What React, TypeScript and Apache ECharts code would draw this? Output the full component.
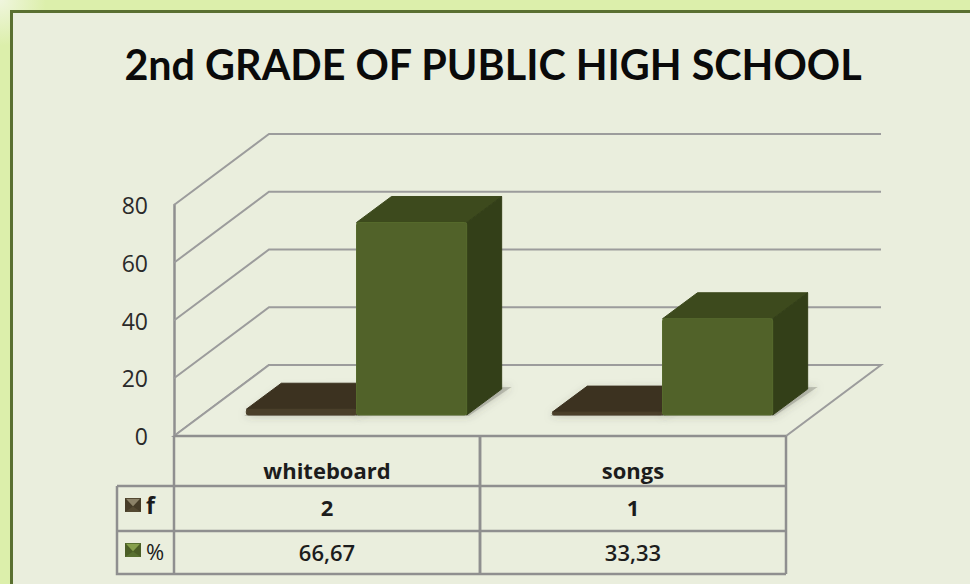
import React, { useEffect, useRef } from "react";
import * as echarts from "echarts";

const chartTitle = "2nd GRADE OF PUBLIC HIGH SCHOOL";
const categories = ["whiteboard", "songs"];
const frequency = [2, 1];
const percent = [66.67, 33.33];
const percentLabels = ["66,67", "33,33"];
const valueTicks = [0, 20, 40, 60, 80];

const TITLE_FONT = "Lato";
const FONT = "Open Sans";
const INK = "#1c1c1c";
const RULE = "#8f8f8f";

// Oblique projection used for the walls and the boxes.
const WALL_DX = 95;
const WALL_DY = 71;
const BOX_DX = 35;
const BOX_DY = 26;
const SHIFT_DX = 29.5;
const SHIFT_DY = 21;
const BAR_RATIO = 0.36;

const line = (x1: number, y1: number, x2: number, y2: number, width = 2.5) => ({
  type: "line",
  shape: { x1, y1, x2, y2 },
  style: { stroke: RULE, lineWidth: width },
});

function wallRenderer(params: any, api: any) {
  const y = api.coord([0, api.value(1)])[1];
  const { x, width } = params.coordSys;
  const children: any[] = [
    {
      type: "polyline",
      shape: {
        points: [
          [x, y],
          [x + WALL_DX, y - WALL_DY],
          [x + width + WALL_DX, y - WALL_DY],
        ],
      },
      style: { stroke: "#9c9c9c", lineWidth: 2, fill: "none" },
    },
  ];
  if (api.value(1) === 0) {
    children.push({
      type: "polygon",
      shape: {
        points: [
          [x, y],
          [x + WALL_DX, y - WALL_DY],
          [x + width + WALL_DX, y - WALL_DY],
          [x + width, y],
        ],
      },
      style: { fill: "#ebefdf", stroke: "#9c9c9c", lineWidth: 2 },
    });
  }
  return { type: "group", children };
}

function boxRenderer(side: "left" | "right", colors: { front: string; top: string; side: string; edge: string }) {
  return (_params: any, api: any) => {
    const idx = api.value(0);
    const top = api.coord([idx, api.value(1)]);
    const base = api.coord([idx, 0]);
    const w = api.size([1, 0])[0] * BAR_RATIO;
    const x0 = top[0] + SHIFT_DX - (side === "left" ? w : 0);
    const x1 = x0 + w;
    const yb = base[1] - SHIFT_DY;
    const yt = top[1] - SHIFT_DY;
    return {
      type: "group",
      children: [
        {
          type: "polygon",
          shape: {
            points: [
              [x0 - 2, yb + 1],
              [x1 + 2, yb + 1],
              [x1 + BOX_DX + 10, yb - BOX_DY - 2],
              [x0 + BOX_DX, yb - BOX_DY],
            ],
          },
          style: { fill: "rgba(110,110,100,0.35)", shadowBlur: 8, shadowColor: "rgba(70,70,60,0.75)" },
        },
        {
          type: "polygon",
          shape: { points: [[x0, yt], [x1, yt], [x1 + BOX_DX, yt - BOX_DY], [x0 + BOX_DX, yt - BOX_DY]] },
          style: { fill: colors.top, stroke: colors.top, lineWidth: 1, lineJoin: "round" },
        },
        {
          type: "polygon",
          shape: { points: [[x1, yt], [x1 + BOX_DX, yt - BOX_DY], [x1 + BOX_DX, yb - BOX_DY], [x1, yb]] },
          style: { fill: colors.side, stroke: colors.side, lineWidth: 1, lineJoin: "round" },
        },
        {
          type: "rect",
          shape: { x: x0, y: yt, width: w, height: yb - yt, r: 2 },
          style: { fill: colors.front, stroke: colors.edge, lineWidth: 1 },
        },
      ],
    };
  };
}

function tableRenderer(_params: any, api: any) {
  const idx = api.value(0);
  const base = api.coord([idx, 0]);
  const cx = base[0];
  const half = api.size([1, 0])[0] / 2;
  const y = base[1];
  const cell = (text: string, cy: number, weight: number) => ({
    type: "text",
    style: {
      x: cx,
      y: cy,
      text,
      align: "center",
      verticalAlign: "middle",
      font: `${weight} 22px ${FONT}`,
      fill: INK,
    },
  });
  return {
    type: "group",
    children: [
      line(cx - half, y, cx - half, y + 138),
      line(cx + half, y, cx + half, y + 138),
      line(cx - half, y, cx + half, y),
      line(cx - half, y + 50, cx + half, y + 50),
      line(cx - half, y + 95, cx + half, y + 95),
      line(cx - half, y + 138, cx + half, y + 138),
      cell(String(frequency[idx]), y + 71, 700),
      cell(percentLabels[idx], y + 116, 600),
    ],
  };
}

// Small bevelled legend key shown in the first column of the data table.
function legendKey(x: number, y: number, top: string, mid: string, low: string) {
  const s = 16;
  const h = 14;
  return {
    type: "group",
    x,
    y,
    children: [
      { type: "rect", shape: { x: 0, y: 0, width: s, height: h }, style: { fill: low } },
      { type: "polygon", shape: { points: [[1, 1], [s - 1, 1], [s / 2, h * 0.6]] }, style: { fill: top } },
      { type: "polygon", shape: { points: [[0, 0], [s / 2, h * 0.6], [0, h]] }, style: { fill: mid } },
      { type: "polygon", shape: { points: [[s, 0], [s / 2, h * 0.6], [s, h]] }, style: { fill: mid } },
    ],
  };
}

export default function App() {
  const ref = useRef<HTMLDivElement>(null);

  useEffect(() => {
    const chart = echarts.init(ref.current!, undefined, { renderer: "svg" });
    chart.setOption({
      animation: false,
      backgroundColor: "#dcefab",
      title: {
        text: chartTitle,
        left: 488,
        top: 38,
        textAlign: "center",
        textStyle: { fontFamily: TITLE_FONT, fontWeight: 700, fontSize: 41.3, color: "#0a0a0a" },
      },
      grid: { left: 174, top: 205, width: 612, height: 231 },
      xAxis: {
        type: "category",
        data: categories,
        axisLine: { show: false },
        axisTick: { show: false },
        axisLabel: { fontFamily: FONT, fontWeight: 700, fontSize: 22, color: INK, margin: 23 },
      },
      yAxis: {
        type: "value",
        min: 0,
        max: 80,
        interval: 20,
        splitLine: { show: false },
        axisTick: { show: false },
        axisLine: { show: true, lineStyle: { color: RULE, width: 2.5 } },
        axisLabel: { fontFamily: FONT, fontSize: 23, color: "#2a2a2a", margin: 26 },
      },
      graphic: [
        {
          type: "rect",
          z: -20,
          silent: true,
          shape: { x: 0, y: 0, width: 46, height: 46 },
          style: {
            fill: {
              type: "radial",
              x: 0,
              y: 0,
              r: 1,
              colorStops: [
                { offset: 0, color: "rgba(240,246,222,1)" },
                { offset: 1, color: "rgba(240,246,222,0)" },
              ],
            },
          },
        },
        {
          type: "rect",
          z: -10,
          silent: true,
          shape: { x: 11.5, y: 11.5, width: 970, height: 590 },
          style: { fill: "#eaeedd", stroke: "#5a7030", lineWidth: 3 },
        },
        {
          type: "polyline",
          z: 5,
          silent: true,
          shape: { points: [[117, 486], [117, 574], [174, 574]] },
          style: { stroke: RULE, lineWidth: 2.5, fill: "none" },
        },
        { type: "line", z: 5, silent: true, shape: { x1: 117, y1: 486, x2: 174, y2: 486 }, style: { stroke: RULE, lineWidth: 2.5 } },
        { type: "line", z: 5, silent: true, shape: { x1: 117, y1: 531, x2: 174, y2: 531 }, style: { stroke: RULE, lineWidth: 2.5 } },
        { ...legendKey(125, 498, "#8c8268", "#463c28", "#544932"), z: 5, silent: true },
        { ...legendKey(125, 543, "#86a04c", "#4b5e26", "#587030"), z: 5, silent: true },
        {
          type: "text",
          z: 5,
          silent: true,
          style: { x: 146, y: 505, text: "f", font: `700 23px ${FONT}`, fill: INK, verticalAlign: "middle" },
        },
        {
          type: "text",
          z: 5,
          silent: true,
          style: { x: 146, y: 551, text: "%", font: `400 22px ${FONT}`, fill: INK, verticalAlign: "middle" },
        },
      ],
      series: [
        {
          type: "custom",
          name: "walls",
          z: 1,
          silent: true,
          renderItem: wallRenderer,
          encode: { x: 0, y: 1 },
          data: valueTicks.slice().reverse().map((t) => [0, t]),
        },
        {
          type: "custom",
          name: "f",
          z: 2,
          renderItem: boxRenderer("left", { front: "#4a3f2a", top: "#3c3220", side: "#332a1a", edge: "#4a3f2a" }),
          encode: { x: 0, y: 1 },
          data: categories.map((_, i) => [i, frequency[i]]),
        },
        {
          type: "custom",
          name: "%",
          z: 3,
          renderItem: boxRenderer("right", { front: "#516229", top: "#3d4a1d", side: "#333f18", edge: "#566a2c" }),
          encode: { x: 0, y: 1 },
          data: categories.map((_, i) => [i, percent[i]]),
        },
        {
          type: "custom",
          name: "table",
          z: 4,
          silent: true,
          renderItem: tableRenderer,
          encode: { x: 0, y: 1 },
          data: categories.map((_, i) => [i, 0]),
        },
      ],
    });
    return () => chart.dispose();
  }, []);

  return <div ref={ref} style={{ position: "absolute", left: 0, top: 0, width: 970, height: 584 }} />;
}
